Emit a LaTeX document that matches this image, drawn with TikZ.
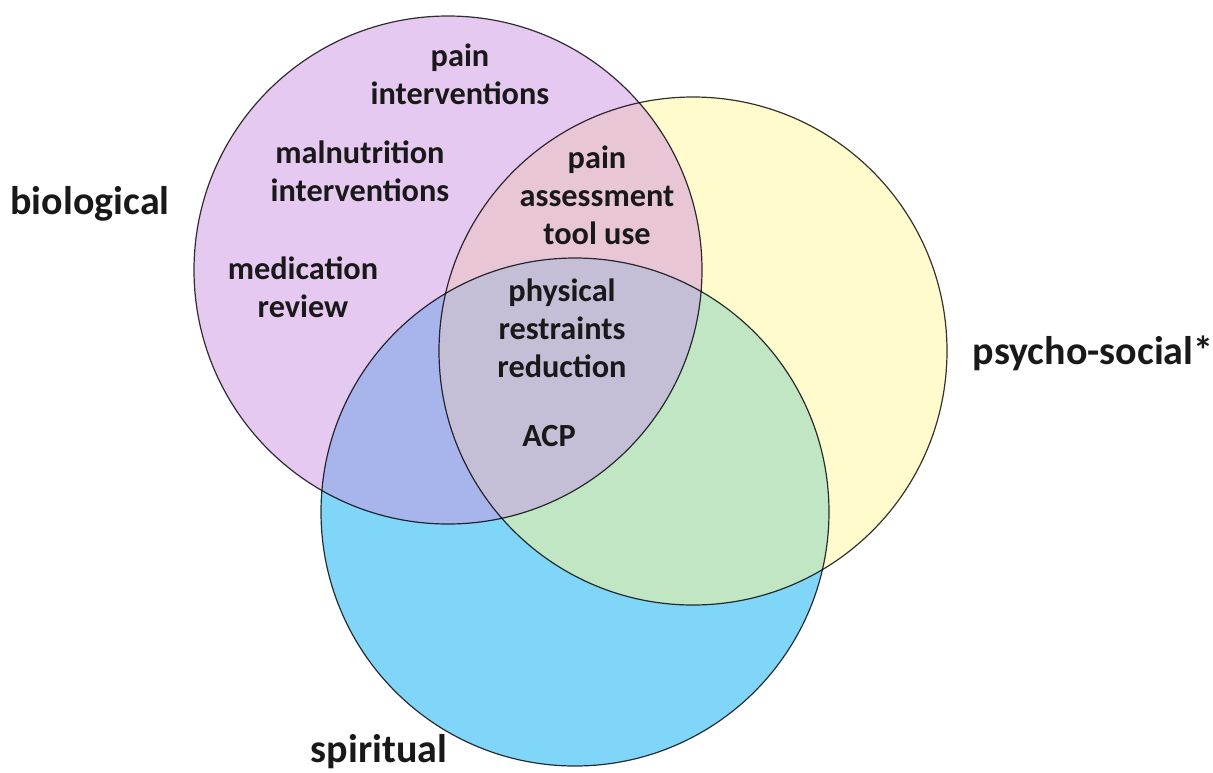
\documentclass[tikz,border=0pt]{standalone}
\usepackage{fontspec}
\setmainfont{Carlito}
\definecolor{bioC}{HTML}{E6C9F0}
\definecolor{psyC}{HTML}{FFFBCD}
\definecolor{spiC}{HTML}{80D6F8}
\definecolor{bioPsy}{HTML}{E8C6D6}
\definecolor{bioSpi}{HTML}{A8B4EC}
\definecolor{psySpi}{HTML}{C0E6C4}
\definecolor{allC}{HTML}{C4BED6}
\begin{document}
\begin{tikzpicture}[x=1pt,y=-1pt,
  lbl/.style={font=\bfseries\fontsize{32.3}{38}\selectfont, align=center, text=black!90, inner sep=0pt},
  setname/.style={font=\bfseries\fontsize{40}{48}\selectfont, text=black!90, inner sep=0pt},
  ring/.style={draw=black, draw opacity=0.8, line width=1.2pt}]
\useasboundingbox (0,0) rectangle (1213,772);
\def\bio{(448,270) circle (254pt)}
\def\psy{(693,351) circle (254pt)}
\def\spi{(575,512) circle (254pt)}
% single sets
\fill[psyC] \psy;
\fill[bioC] \bio;
\fill[spiC] \spi;
% pairwise overlaps
\begin{scope}\clip \bio; \fill[bioPsy] \psy; \end{scope}
\begin{scope}\clip \bio; \fill[bioSpi] \spi; \end{scope}
\begin{scope}\clip \psy; \fill[psySpi] \spi; \end{scope}
% triple overlap
\begin{scope}\clip \bio; \clip \psy; \fill[allC] \spi; \end{scope}
% outlines
\draw[ring] \psy;
\draw[ring] \bio;
\draw[ring] \spi;
% labels
\node[lbl] (painInt) at (460,74) {pain\\interventions};
\node[lbl] (maln) at (360,171) {malnutrition\\interventions};
\node[lbl] (med) at (303,287) {medication\\review};
\node[lbl] (tool) at (597,195) {pain\\assessment\\tool use};
\node[lbl] (restr) at (562,328) {physical\\restraints\\reduction};
\node[lbl] (acp) at (549,436) {ACP};
\node[setname] (bioL) at (90,204) {biological};
\node[setname] (psyL) at (1093,353) {psycho-social*};
\node[setname] (spiL) at (379,752) {spiritual};
\end{tikzpicture}
\end{document}
